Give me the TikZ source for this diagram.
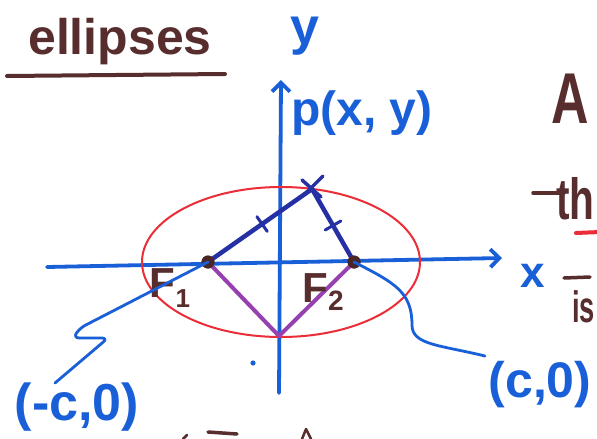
\documentclass[tikz,border=0pt]{standalone}
\usepackage{fontspec}
\setmainfont{Liberation Sans}
\usetikzlibrary{arrows.meta,calc}
\definecolor{penblue}{RGB}{25,95,215}
\definecolor{navy}{RGB}{38,48,165}
\definecolor{penred}{RGB}{235,45,55}
\definecolor{penpurple}{RGB}{150,65,175}
\definecolor{penbrown}{RGB}{88,45,45}
\begin{document}
\begin{tikzpicture}[x=1pt,y=-1pt,line cap=round,line join=round,
  axis/.style={penblue,line width=3.8pt},
  leader/.style={penblue,line width=2.8pt,rounded corners=6pt},
  chord/.style={navy,line width=4.5pt},
  lower/.style={penpurple,line width=4pt},
  bluetext/.style={text=penblue,inner sep=0pt},
  browntext/.style={text=penbrown,inner sep=0pt},
  brownline/.style={penbrown,line width=3.5pt},
  tick/.style={draw=navy,line width=3pt,minimum width=0pt,minimum height=18pt,inner sep=0pt,shape=rectangle},
  focus/.style={circle,fill=penbrown!85!black,minimum size=13pt,inner sep=0pt}]
\useasboundingbox (0,0) rectangle (597,439);
\clip (0,0) rectangle (597,439);
\fill[white] (0,0) rectangle (597,439);

% title
\node[browntext,anchor=base west,font=\bfseries\fontsize{50}{50}\selectfont] (title) at (28,54) {ellipses};
\draw[brownline,line width=4pt] (7,76) -- (225,74);

% axes
\coordinate (xs) at (47,267);
\coordinate (xe) at (502,258);
\coordinate (ys) at (279,393);
\coordinate (ye) at (281,80);
\draw[axis,-{Straight Barb[length=9pt,width=18pt]}] (xs) -- (xe);
\draw[axis,-{Straight Barb[length=9pt,width=18pt]}] (ys) -- (ye);
\node[bluetext,font=\bfseries\fontsize{52}{52}\selectfont] (ylab) at (305,36) {y};
\node[bluetext,font=\bfseries\fontsize{44}{44}\selectfont] (xlab) at (533,276) {x};

% ellipse
\draw[penred,line width=2pt] (281,262) ellipse [x radius=139,y radius=75];

% points
\coordinate (P) at (312,189);
\coordinate (B) at (279,336);
\node[focus] (F1) at (208,262) {};
\node[focus] (F2) at (354,262) {};

\draw[lower] (F1.center) -- (B) -- (F2.center);
\draw[chord] (F1.center) -- node[tick,sloped,pos=0.52] (t1) {} (P)
             -- node[tick,sloped,pos=0.5] (t2) {} (F2.center);
\draw[chord,line width=3.5pt] (302,180) -- (321,197);
\draw[chord,line width=3.5pt] (323,176) -- (306,193);
\node[focus] at (F1) {};
\node[focus] at (F2) {};

\node[bluetext,anchor=west,font=\bfseries\fontsize{48}{48}\selectfont] (plab) at (291,113) {p(x, y)};

\node[browntext,font=\bfseries\fontsize{42}{42}\selectfont] (f1lab) at (170,288)
  {F\raisebox{-10pt}{\fontsize{26}{26}\selectfont 1}};
\node[browntext,font=\bfseries\fontsize{42}{42}\selectfont] (f2lab) at (323,292)
  {F\raisebox{-8pt}{\fontsize{28}{28}\selectfont 2}};

% leader labels
\node[bluetext,font=\bfseries\fontsize{52}{52}\selectfont] (cm) at (77,407) {(-c,0)};
\node[bluetext,font=\bfseries\fontsize{50}{50}\selectfont] (cp) at (540,385) {(c,0)};

\draw[leader] (F1.center) -- (80,328) -- (73,338) -- (108,338) -- (55,383);
\draw[leader,rounded corners=0pt] (F2.center) .. controls (395,283) and (412,292) .. (412,325)
   .. controls (412,345) and (440,345) .. (485,356);

\fill[penblue] (253,363) circle (2.6);

% right margin text
\node[browntext,anchor=base west,font=\bfseries\fontsize{72}{72}\selectfont] (A) at (551,123) {\scalebox{0.72}[1]{A}};
\node[browntext,anchor=base west,font=\bfseries\fontsize{58}{58}\selectfont] (th) at (556,219) {\scalebox{0.7}[1]{th}};
\draw[brownline] (533,193) -- (564,193);
\draw[penred,line width=4pt] (576,233) -- (600,232);
\draw[brownline] (564,278) -- (590,277);
\node[browntext,anchor=base west,font=\bfseries\fontsize{44}{44}\selectfont] (is) at (572,322) {\scalebox{0.62}[1]{is}};

% bottom fragments
\draw[brownline] (208,432) -- (237,434);
\draw[brownline,line width=2.5pt] (183,439) -- (187,435);
\draw[brownline,line width=2.5pt] (302,439) -- (306,429) -- (311,439);
\end{tikzpicture}
\end{document}
